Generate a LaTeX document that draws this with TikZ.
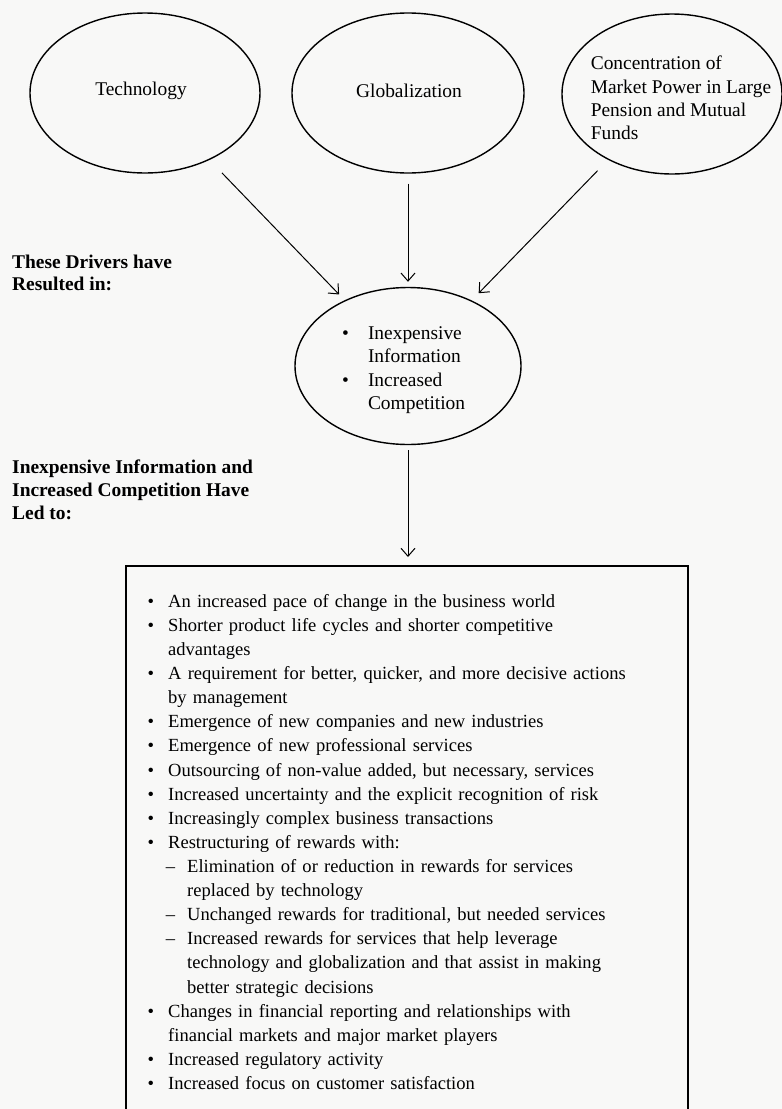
\documentclass[tikz,border=0pt]{standalone}
\usepackage{fontspec}
\setmainfont{Liberation Serif}
\usetikzlibrary{shapes.geometric,arrows.meta}
\definecolor{paper}{RGB}{248,248,247}
\tikzset{
	drv/.style={draw,ellipse,line width=1.4bp,inner sep=0pt},
	txt/.style={font=\fontsize{19.5}{23.5}\selectfont,align=left,inner sep=0pt},
	hd/.style={font=\fontsize{19.5}{22}\selectfont\bfseries,align=left,inner sep=0pt,anchor=west},
	arr/.style={-{Straight Barb[length=8bp,width=14bp]},line width=1bp}
}
\newenvironment{efflist}{\begin{list}{\textbullet}{\setlength{\leftmargin}{21bp}\setlength{\labelwidth}{10bp}\setlength{\labelsep}{14bp}\setlength{\itemsep}{0pt}\setlength{\parsep}{0pt}\setlength{\topsep}{0pt}\setlength{\partopsep}{0pt}}}{\end{list}}
\newenvironment{subefflist}{\begin{list}{\textendash}{\setlength{\leftmargin}{19bp}\setlength{\labelwidth}{10bp}\setlength{\labelsep}{12bp}\setlength{\itemsep}{0pt}\setlength{\parsep}{0pt}\setlength{\topsep}{0pt}\setlength{\partopsep}{0pt}}}{\end{list}}

\begin{document}
\begin{tikzpicture}[x=1bp,y=-1bp]
\useasboundingbox[fill=paper] (0,0) rectangle (782,1109);
\node[drv,minimum width=230bp,minimum height=160bp] (tech) at (145,93) {};
\node[drv,minimum width=232bp,minimum height=160bp] (glob) at (408,93) {};
\node[drv,minimum width=220bp,minimum height=160bp] (conc) at (672,94) {};
\node[drv,minimum width=226bp,minimum height=157bp] (result) at (408,366) {};
\node[txt] (techtxt) at (141,91) {Technology};
\node[txt] (globtxt) at (409,91) {Globalization};
\node[txt] (conctxt) at (681,98) {Concentration of\\Market Power in Large\\Pension and Mutual\\Funds};
\node[txt,anchor=west] (restxt) at (342,370) {\begin{tabular}{@{}l@{\hspace{19bp}}l@{}}\textbullet & Inexpensive\\ & Information\\ \textbullet & Increased\\ & Competition\end{tabular}};
\coordinate (boxtop) at (408,566);
\draw[arr,shorten <=18bp,shorten >=8bp] (tech) -- (result);
\draw[arr,shorten <=10bp,shorten >=5bp] (glob) -- (result);
\draw[arr,shorten <=15bp,shorten >=10bp] (conc) -- (result);
\draw[arr,shorten <=5bp,shorten >=9bp] (result) -- (boxtop);
\node[hd] (drvhd) at (12,273) {These Drivers have\\Resulted in:};
\node[hd,font=\fontsize{19.5}{23}\selectfont\bfseries] (ledhd) at (12,490) {Inexpensive Information and\\Increased Competition Have\\Led to:};
\draw[line width=1.4bp] (126,1109) -- (126,566) -- (688,566) -- (688,1109);
\node[anchor=north west,inner sep=0pt,text width=520bp,align=left,font=\fontsize{18.6}{24.2}\selectfont] (effects) at (147,583) {%
\begin{efflist}
\item An increased pace of change in the business world
\item Shorter product life cycles and shorter competitive\\ advantages
\item A requirement for better, quicker, and more decisive actions\\ by management
\item Emergence of new companies and new industries
\item Emergence of new professional services
\item Outsourcing of non-value added, but necessary, services
\item Increased uncertainty and the explicit recognition of risk
\item Increasingly complex business transactions
\item Restructuring of rewards with:
\begin{subefflist}
\item Elimination of or reduction in rewards for services\\ replaced by technology
\item Unchanged rewards for traditional, but needed services
\item Increased rewards for services that help leverage\\ technology and globalization and that assist in making\\ better strategic decisions
\end{subefflist}
\item Changes in financial reporting and relationships with\\ financial markets and major market players
\item Increased regulatory activity
\item Increased focus on customer satisfaction
\end{efflist}};
\end{tikzpicture}
\end{document}
